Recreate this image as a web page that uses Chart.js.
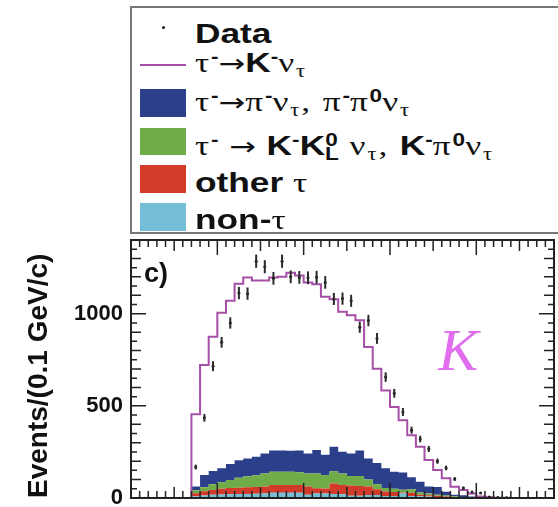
<!DOCTYPE html>
<html lang="en">
<head>
<meta charset="UTF-8">
<title>tau -> K nu momentum spectrum</title>
<script src="https://cdn.jsdelivr.net/npm/chart.js"></script>
<style>
  html, body { margin: 0; padding: 0; background: #fff; overflow: hidden; }
  #wrap { position: relative; width: 558px; height: 507px; overflow: hidden; }
  #chart { position: absolute; left: 0; top: 0; }
  #legend { position: absolute; left: 130px; top: 6px; width: 470px; height: 228px; box-sizing: border-box;
            border: 2px solid #777; background: #fff; }
  .sym { position: absolute; left: 140px; width: 46px; }
  .row { position: absolute; left: 195px; white-space: nowrap; color: #111;
         font: bold 28px 'Liberation Sans', Arial, sans-serif; line-height: 28px;
         transform: scaleX(1.26); transform-origin: 0 0; }
  .g { font-family: 'Liberation Serif', 'DejaVu Serif', serif; font-weight: normal; letter-spacing: 1.5px; }
  .ar { font-family: 'DejaVu Sans', sans-serif; font-weight: normal; font-size: 0.9em; }
  .sp { position: relative; top: -0.5em; font-size: 0.64em; }
  .sb { position: relative; top: 0.3em; font-size: 0.64em; }
</style>
</head>
<body>
<div id="wrap">
  <canvas id="chart" width="558" height="507"></canvas>

  <div id="legend"></div>
  <div class="sym" style="left:162px;top:26px;width:3px;height:3px;background:#111;border-radius:2px"></div>
  <div class="row" style="top:20px">Data</div>

  <div class="sym" style="top:64px;height:2px;background:#a64fa6"></div>
  <div class="row" style="top:49px"><span class="g">τ</span><span class="sp">-</span><span class="ar">→</span>K<span class="sp">-</span><span class="g">ν</span><span class="sb g">τ</span></div>

  <div class="sym" style="top:89px;height:28px;background:#2c3f8a"></div>
  <div class="row" style="top:88px"><span class="g">τ</span><span class="sp">-</span><span class="ar">→</span><span class="g">π</span><span class="sp">-</span><span class="g">ν</span><span class="sb g">τ</span><span class="g">, π</span><span class="sp">-</span><span class="g">π</span><span class="sp">0</span><span class="g">ν</span><span class="sb g">τ</span></div>

  <div class="sym" style="top:128px;height:27px;background:#70ad48"></div>
  <div class="row" style="top:132px"><span class="g">τ</span><span class="sp">-</span><span class="g"> </span><span class="ar">→</span><span class="g"> </span>K<span class="sp">-</span>K<span class="sp">0</span><span class="sb" style="margin-left:-10px">L</span><span class="g"> ν</span><span class="sb g">τ</span><span class="g">, </span>K<span class="sp">-</span><span class="g">π</span><span class="sp">0</span><span class="g">ν</span><span class="sb g">τ</span></div>

  <div class="sym" style="top:165px;height:28px;background:#d23a2a"></div>
  <div class="row" style="top:169px">other <span class="g">τ</span></div>

  <div class="sym" style="top:203px;height:28px;background:#74bed8"></div>
  <div class="row" style="top:206px">non-<span class="g">τ</span></div>
</div>

<script>
  // lower edges of the 0.1 GeV/c bins that have entries
  const pLow = [0.7, 0.8, 0.9, 1.0, 1.1, 1.2, 1.3, 1.4, 1.5, 1.6, 1.7, 1.8, 1.9, 2.0, 2.1, 2.2, 2.3, 2.4, 2.5,
                2.6, 2.7, 2.8, 2.9, 3.0, 3.1, 3.2, 3.3, 3.4, 3.5, 3.6, 3.7, 3.8, 3.9, 4.0, 4.1, 4.2, 4.3, 4.4];
  const binW = 0.1;
  const yTicks = [0, 500, 1000];

  const dataEvents = [168, 435, 715, 845, 950, 1112, 1109, 1285, 1255, 1192, 1285, 1200, 1197, 1195, 1198, 1170,
                      1080, 1082, 1070, 927, 963, 866, 656, 568, 467, 368, 320, 266, 200, 163, 103, 54, 32, 27, 6, 3, 1, 0];
  // total MC (signal tau -> K nu on top of backgrounds)
  const mcTotal = [160, 455, 722, 875, 1005, 1071, 1163, 1197, 1180, 1180, 1197, 1200, 1222, 1208, 1170, 1160,
                   1092, 1078, 1010, 992, 965, 819, 702, 584, 494, 422, 341, 278, 206, 152, 107, 61, 43, 25, 8, 4, 2, 1];
  const bgNonTau = [5, 10, 14, 17, 19, 20, 22, 22, 23, 25, 29, 28, 29, 28, 17, 25, 24, 22, 21, 12, 12, 16, 16, 11,
                    11, 24, 11, 10, 8, 6, 4, 3, 2, 2, 1, 1, 0, 0];
  const bgOtherTau = [7, 16, 22, 27, 31, 34, 34, 36, 37, 37, 41, 42, 42, 42, 45, 28, 28, 57, 49, 56, 53, 47, 31, 24,
                      22, 6, 17, 8, 7, 6, 4, 2, 2, 1, 1, 0, 1, 0];
  const bgKK = [6, 16, 22, 30, 36, 43, 54, 60, 64, 71, 72, 72, 71, 70, 71, 80, 73, 66, 63, 52, 54, 38, 27, 19,
                17, 15, 20, 12, 9, 6, 5, 4, 2, 2, 1, 1, 0, 1];
  const bgPiPi0 = [12, 20, 67, 72, 76, 87, 95, 97, 100, 109, 116, 116, 114, 118, 109, 127, 110, 133, 118, 122, 139,
                   114, 116, 108, 92, 93, 64, 58, 38, 42, 21, 8, 9, 3, 3, 2, 1, 0];

  const fontSans = "'Liberation Sans', Arial, sans-serif";

  // histogram outline: one point per lower edge, closed at the last upper edge
  function stepPts(vals, lead) {
    const pts = vals.map((v, i) => ({ x: pLow[i], y: v }));
    pts.push({ x: pLow[pLow.length - 1] + binW, y: 0 });
    if (lead) pts.unshift({ x: pLow[0], y: 0 });
    return pts;
  }

  function bgSet(label, vals, color, fill, order) {
    return {
      label: label, data: stepPts(vals, false), stepped: 'after', stack: 'bg', order: order,
      backgroundColor: color, borderColor: color, borderWidth: 0, pointRadius: 0, fill: fill
    };
  }

  const decor = {
    id: 'decor',
    afterDatasetsDraw(chart) {
      const { ctx, chartArea: a, scales: { x, y } } = chart;
      ctx.save();

      // error bars on data
      const meta = chart.getDatasetMeta(5);
      ctx.strokeStyle = '#2a2a2a';
      ctx.lineWidth = 2;
      meta.data.forEach((pt, i) => {
        const v = dataEvents[i];
        if (!v) return;
        const e = Math.sqrt(v);
        ctx.beginPath();
        ctx.moveTo(pt.x, y.getPixelForValue(v - e));
        ctx.lineTo(pt.x, y.getPixelForValue(v + e));
        ctx.stroke();
      });

      // frame with inward ticks on all four sides
      ctx.strokeStyle = '#222';
      ctx.lineWidth = 2;
      ctx.strokeRect(a.left, a.top, a.right - a.left, a.bottom - a.top);
      ctx.lineWidth = 1.5;
      ctx.beginPath();
      for (let v = 50; v < 1400; v += 50) {
        const len = v % 500 === 0 ? 15 : (v % 100 === 0 ? 10 : 6);
        const py = y.getPixelForValue(v);
        ctx.moveTo(a.left, py); ctx.lineTo(a.left + len, py);
        ctx.moveTo(a.right, py); ctx.lineTo(a.right - len, py);
      }
      for (let i = 1; i < 49; i++) {
        const len = i % 10 === 0 ? 15 : (i % 5 === 0 ? 11 : 7);
        const px = x.getPixelForValue(i / 10);
        ctx.moveTo(px, a.bottom); ctx.lineTo(px, a.bottom - len);
        ctx.moveTo(px, a.top); ctx.lineTo(px, a.top + len);
      }
      ctx.stroke();

      // panel label and particle tag
      ctx.fillStyle = '#111';
      ctx.font = 'bold 27px ' + fontSans;
      ctx.textBaseline = 'alphabetic';
      ctx.fillText('c)', a.left + 13, a.top + 42);
      ctx.fillStyle = '#e06eee';
      ctx.font = "italic 60px 'Liberation Serif', 'DejaVu Serif', serif";
      ctx.fillText('K', x.getPixelForValue(3.56), y.getPixelForValue(692));
      ctx.restore();
    }
  };

  new Chart(document.getElementById('chart'), {
    type: 'line',
    data: {
      datasets: [
        bgSet('non-tau', bgNonTau, '#74bed8', 'origin', 2),
        bgSet('other tau', bgOtherTau, '#d23a2a', '-1', 3),
        bgSet('KK, Kpi0', bgKK, '#70ad48', '-1', 4),
        bgSet('pi, pipi0', bgPiPi0, '#2c3f8a', '-1', 5),
        {
          label: 'tau -> K nu', data: stepPts(mcTotal, true), stepped: 'after', stack: 'mc', order: 1,
          borderColor: '#a64fa6', borderWidth: 2, pointRadius: 0, fill: false
        },
        {
          label: 'Data', data: dataEvents.map((v, i) => ({ x: pLow[i] + binW / 2, y: v || null })),
          stack: 'data', order: 0, showLine: false, pointRadius: 1.5, pointBackgroundColor: '#111',
          pointBorderWidth: 0, fill: false
        }
      ]
    },
    options: {
      responsive: false,
      animation: false,
      layout: { padding: { left: 0, right: 2, top: 240, bottom: 9 } },
      plugins: { legend: { display: false }, tooltip: { enabled: false } },
      scales: {
        x: { type: 'linear', min: 0, max: 4.9, display: false },
        y: {
          min: 0, max: 1400, stacked: true,
          border: { display: false },
          grid: { display: false, drawTicks: false },
          afterBuildTicks(s) { s.ticks = yTicks.map(v => ({ value: v })); },
          ticks: {
            padding: 8, color: '#111',
            font: { family: fontSans, weight: 'bold', size: 22 },
            callback: v => String(v)
          },
          title: {
            display: true, text: 'Events/(0.1 GeV/c)', align: 'start', color: '#111',
            font: { family: fontSans, weight: 'bold', size: 28 }, padding: { top: 22, bottom: 0 }
          },
          afterFit(s) { s.width = 131; s.paddingTop = 0; s.paddingBottom = 0; }
        }
      }
    },
    plugins: [decor]
  });
</script>
</body>
</html>
